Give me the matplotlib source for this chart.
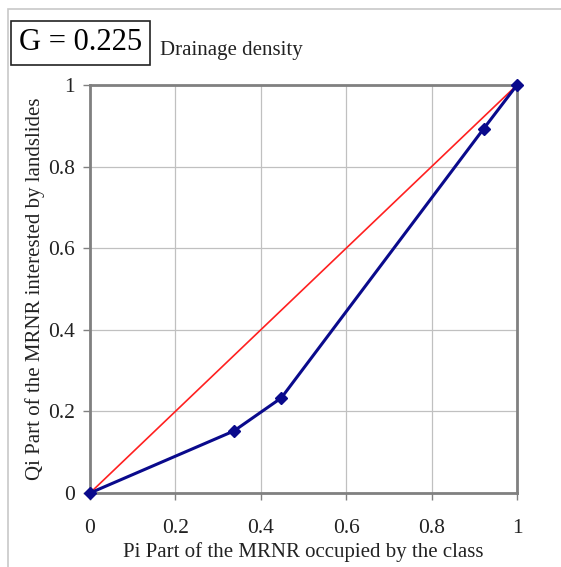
import matplotlib
matplotlib.use("Agg")
import matplotlib.pyplot as plt
from matplotlib.patches import Rectangle

# Lorenz-type curve for the drainage density classes
pi_share = [0.0, 0.337, 0.448, 0.922, 1.0]
qi_share = [0.0, 0.152, 0.233, 0.893, 1.0]
diag = [0.0, 1.0]
ticks = [0, 0.2, 0.4, 0.6, 0.8, 1]
tick_labels = ["0", "0.2", "0.4", "0.6", "0.8", "1"]
gini_text = "G = 0.225"
title_text = "Drainage density"

plt.rcParams['font.family'] = ['Liberation Serif', 'DejaVu Serif']

fig = plt.figure(figsize=(5.61, 5.67), dpi=100)
ax = fig.add_axes([90/561, 74/567, 427/561, 408/567])

# outer frame around the whole chart
fig.patches.append(Rectangle((8/561, -0.05), 1.2, (567-9)/567 + 0.05, transform=fig.transFigure,
                             fill=False, edgecolor='#c8c8c8', linewidth=1.2))

ax.plot(diag, diag, color='#ff2020', linewidth=1.2, zorder=3)
ax.plot(pi_share, qi_share, color='#0a0a8c', linewidth=2.2, marker='D',
        markersize=6.5, zorder=4, clip_on=False)

ax.set_xlim(0, 1)
ax.set_ylim(0, 1)
ax.set_xticks(ticks)
ax.set_xticklabels(tick_labels)
ax.set_yticks(ticks)
ax.set_yticklabels(tick_labels)
ax.tick_params(labelsize=15.5, length=5, width=1, color='#808080', pad=6, labelcolor='#222222')
ax.tick_params(axis='x', pad=14)
ax.grid(True, color='#c0c0c0', linewidth=0.9)
ax.set_axisbelow(True)
for s in ax.spines.values():
    s.set_color('#808080')
    s.set_linewidth(2)

ax.set_xlabel("Pi Part of the MRNR occupied by the class", fontsize=15, labelpad=3, color='#222222')
ax.set_ylabel("Qi Part of the MRNR interested by landslides", fontsize=15, labelpad=2, color='#222222')

fig.text(19/561, 1 - 43/567, gini_text, fontsize=22, va='center', ha='left',
         bbox=dict(boxstyle='square,pad=0.25', facecolor='white', edgecolor='#222222', linewidth=1.2))
fig.text(160/561, 1 - 50/567, title_text, fontsize=15, va='center', ha='left', color='#222222')

fig.savefig("out.png", dpi=100)
